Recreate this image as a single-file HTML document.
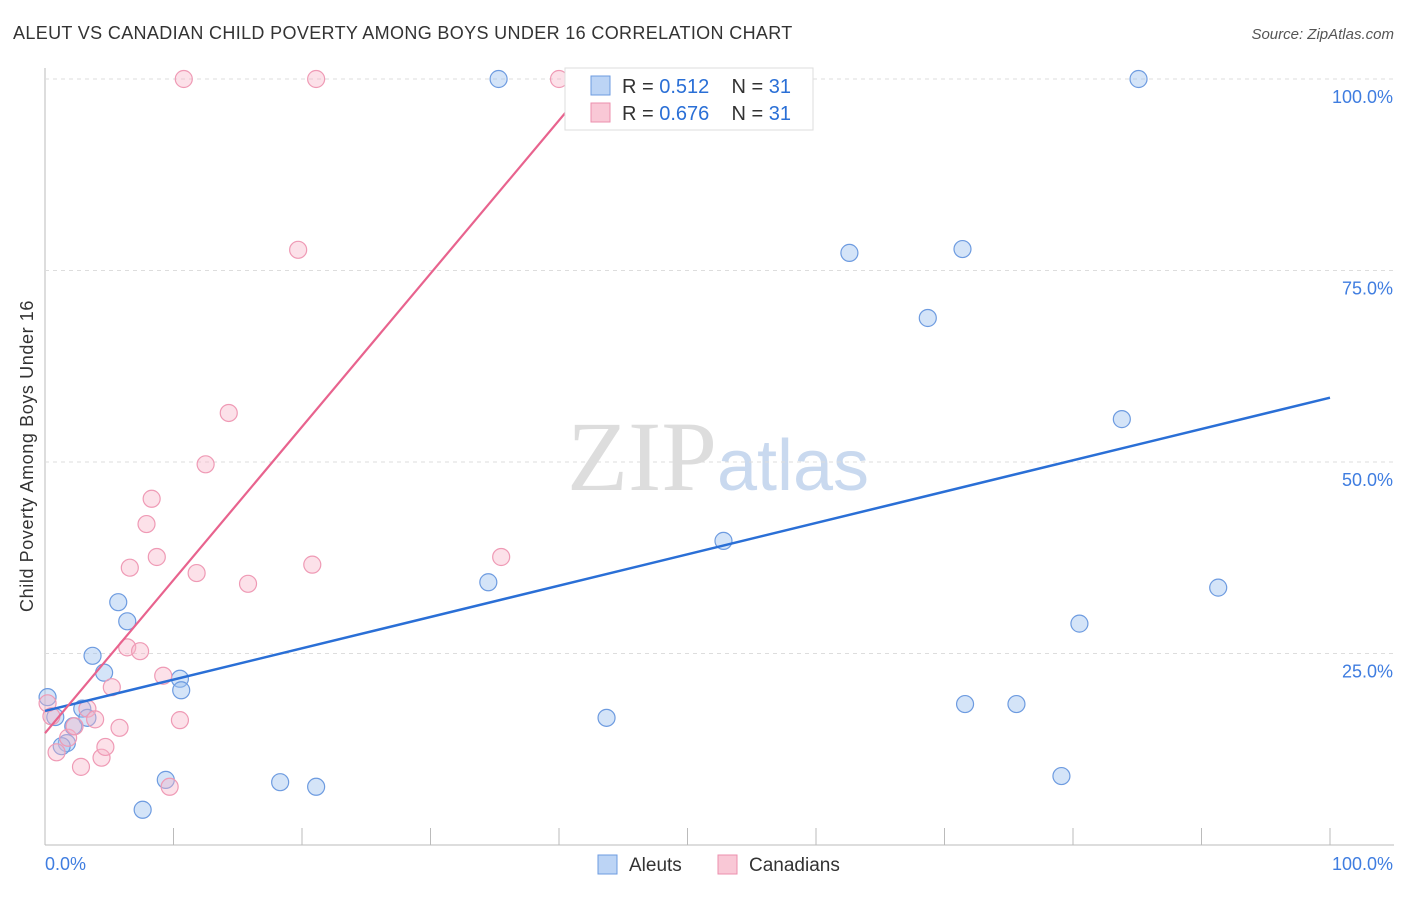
<!DOCTYPE html>
<html><head><meta charset="utf-8"><style>
body{margin:0;background:#fff;font-family:"Liberation Sans",sans-serif}
</style></head><body>
<svg id="c" width="1406" height="892" xmlns="http://www.w3.org/2000/svg">
<text x="13" y="39" font-size="18" letter-spacing="0.35" fill="#333">ALEUT VS CANADIAN CHILD POVERTY AMONG BOYS UNDER 16 CORRELATION CHART</text>
<text x="1394" y="39" font-size="15" fill="#555" text-anchor="end" font-style="italic">Source: ZipAtlas.com</text>
<text x="33" y="456" font-size="18" letter-spacing="0.6" fill="#333" text-anchor="middle" transform="rotate(-90 33 456)">Child Poverty Among Boys Under 16</text>
<text x="718" y="490" font-size="100" fill="#ddd" text-anchor="middle" font-family="Liberation Serif,serif">ZIP<tspan fill="#c9d9ef" font-family="Liberation Sans,sans-serif" font-size="72">atlas</tspan></text>
<g id="grid"></g><g id="pts"></g><g id="lines"></g>
<g>
<rect x="565" y="68" width="248" height="62" fill="#fff" stroke="#ddd"/>
<rect x="591" y="76" width="19" height="19" fill="#bcd4f5" stroke="#6d9be0"/>
<rect x="591" y="103" width="19" height="19" fill="#f9c8d6" stroke="#ec8fae"/>
<text x="622" y="93" font-size="20" fill="#333" xml:space="preserve">R = <tspan fill="#2a6fd6">0.512</tspan>    N = <tspan fill="#2a6fd6">31</tspan></text>
<text x="622" y="120" font-size="20" fill="#333" xml:space="preserve">R = <tspan fill="#2a6fd6">0.676</tspan>    N = <tspan fill="#2a6fd6">31</tspan></text>
</g>
<g>
<rect x="598" y="855" width="19" height="19" fill="#bcd4f5" stroke="#6d9be0"/>
<text x="629" y="871" font-size="19" fill="#333">Aleuts</text>
<rect x="718" y="855" width="19" height="19" fill="#f9c8d6" stroke="#ec8fae"/>
<text x="749" y="871" font-size="19" fill="#333">Canadians</text>
</g>
</svg>
<script>
const aleutX=[0.2,0.8,1.7,1.3,2.2,2.9,3.3,3.7,4.6,5.7,6.4,7.6,9.4,10.5,10.6,18.3,21.1,34.5,35.3,43.7,52.8,62.6,68.7,71.4,71.6,75.6,79.1,80.5,83.8,85.1,91.3];
const aleutY=[19.3,16.7,13.3,12.9,15.5,17.8,16.6,24.7,22.5,31.7,29.2,4.6,8.5,21.7,20.2,8.2,7.6,34.3,100,16.6,39.7,77.3,68.8,77.8,18.4,18.4,9.0,28.9,55.6,100,33.6];
const canX=[0.2,0.5,0.9,1.8,2.3,2.8,3.3,3.9,4.4,4.7,5.2,5.8,6.4,6.6,7.4,7.9,8.3,8.7,9.2,9.7,10.5,10.8,11.8,12.5,14.3,15.8,19.7,20.8,21.1,35.5,40.0];
const canY=[18.5,16.8,12.1,14.0,15.5,10.2,17.8,16.4,11.4,12.8,20.6,15.3,25.8,36.2,25.3,41.9,45.2,37.6,22.1,7.6,16.3,100,35.5,49.7,56.4,34.1,77.7,36.6,100,37.6,100];
const trendAleut=[17.5,58.4];   // y at x=0, x=100
const trendCan=[14.6,2.0];      // intercept, slope
const yTicks=[25,50,75,100];
const xTickLabels=["0.0%","100.0%"];
const NS="http://www.w3.org/2000/svg";
const X=v=>45+v*12.85, Y=v=>845-v*7.66;
function mk(t,a,p){const e=document.createElementNS(NS,t);for(const k in a)e.setAttribute(k,a[k]);document.getElementById(p).appendChild(e);return e;}
let ax=mk('line',{x1:45,y1:68,x2:45,y2:845,stroke:'#bbb'},'grid');


let bx=mk('line',{x1:45,y1:845,x2:1394,y2:845,stroke:'#bbb'},'grid');


for(let i=1;i<=10;i++){const t=mk('line',{x1:X(i*10),y1:828,x2:X(i*10),y2:845,stroke:'#bbb'},'grid');

}
yTicks.forEach(v=>{const g=mk('line',{x1:45,y1:Y(v),x2:1394,y2:Y(v),stroke:'#ddd','stroke-dasharray':'4,4'},'grid');


const t=mk('text',{x:1393,y:Y(v)+24,'font-size':18,fill:'#3f7de0','text-anchor':'end'},'grid');t.textContent=v.toFixed(1)+'%';

});
[[45,'start'],[1393,'end']].forEach((p,i)=>{const t=mk('text',{x:p[0],y:870,'font-size':18,fill:'#3f7de0','text-anchor':p[1]},'grid');t.textContent=xTickLabels[i];

});
aleutX.forEach((x,i)=>{const c=mk('circle',{cx:X(x),cy:Y(aleutY[i]),r:8.5,fill:'rgba(160,195,240,0.45)',stroke:'#6d9be0','stroke-width':1.2},'pts');

});
canX.forEach((x,i)=>{const c=mk('circle',{cx:X(x),cy:Y(canY[i]),r:8.5,fill:'rgba(248,180,200,0.4)',stroke:'#ef9ab5','stroke-width':1.2},'pts');

});
let la=mk('line',{x1:X(0),y1:Y(trendAleut[0]),x2:X(100),y2:Y(trendAleut[1]),stroke:'#2a6fd6','stroke-width':2.5},'lines');


const xEnd=Math.min(100,(97-trendCan[0])/trendCan[1]);
let lc=mk('line',{x1:X(0),y1:Y(trendCan[0]),x2:X(xEnd),y2:Y(trendCan[0]+trendCan[1]*xEnd),stroke:'#e8638e','stroke-width':2.2},'lines');


</script>
</body></html>
